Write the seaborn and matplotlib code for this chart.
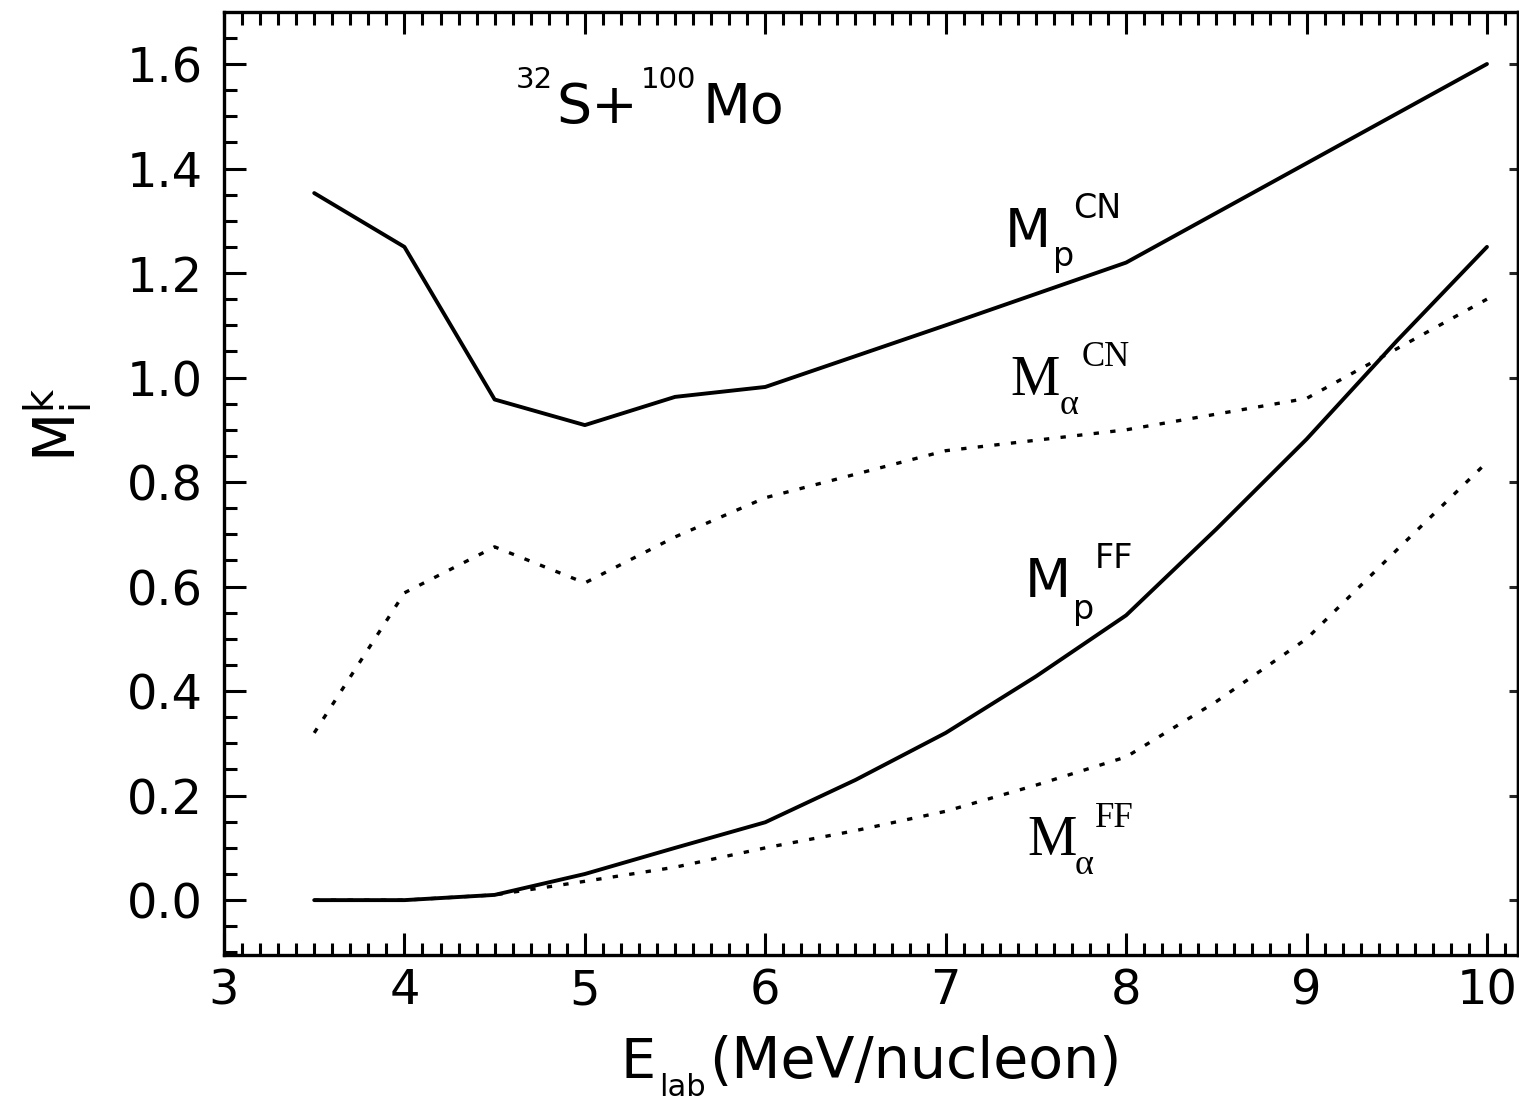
import numpy as np
import pandas as pd
import matplotlib
matplotlib.use("Agg")
import matplotlib.pyplot as plt
import seaborn as sns
from matplotlib.ticker import MultipleLocator, FixedLocator, NullLocator

# ---------------- data ----------------
E_CN = [3.5, 4.0, 4.5, 5.0, 5.5, 6.0, 7.0, 8.0, 9.0, 10.0]
Mp_CN = [1.353, 1.25, 0.958, 0.909, 0.963, 0.982, 1.10, 1.22, 1.41, 1.60]
Ma_CN = [0.32, 0.588, 0.676, 0.607, 0.695, 0.77, 0.86, 0.90, 0.96, 1.15]

E_FF = [3.5, 4.0, 4.5, 5.0, 5.5, 6.0, 6.5, 7.0, 7.5, 8.0, 8.5, 9.0, 9.5, 10.0]
Mp_FF = [0.0, 0.0, 0.01, 0.05, 0.10, 0.149, 0.23, 0.32, 0.428, 0.545, 0.71, 0.882, 1.07, 1.25]
Ma_FF = [0.0, 0.0, 0.01, 0.036, 0.063, 0.10, 0.133, 0.17, 0.22, 0.274, 0.38, 0.50, 0.67, 0.838]

x_ticks = [3, 4, 5, 6, 7, 8, 9, 10]
x_tick_labels = ["3", "4", "5", "6", "7", "8", "9", "10"]
y_ticks = [0.0, 0.2, 0.4, 0.6, 0.8, 1.0, 1.2, 1.4, 1.6]
y_tick_labels = ["0.0", "0.2", "0.4", "0.6", "0.8", "1.0", "1.2", "1.4", "1.6"]

series_names = ["Mp_CN", "Ma_CN", "Mp_FF", "Ma_FF"]
series_x = [E_CN, E_CN, E_FF, E_FF]
series_vals = [Mp_CN, Ma_CN, Mp_FF, Ma_FF]
series_kind = ["solid", "dotted", "solid", "dotted"]

df = pd.concat(
    [pd.DataFrame({"E": x, "M": v, "curve": n, "kind": k})
     for n, x, v, k in zip(series_names, series_x, series_vals, series_kind)],
    ignore_index=True,
)

# ---------------- figure ----------------
sns.set_style("ticks")
plt.rcParams["font.family"] = ["DejaVu Sans"]
plt.rcParams["axes.edgecolor"] = "black"

W, H = 1519, 1104
fig = plt.figure(figsize=(W / 100, H / 100), dpi=100)
ax_l, ax_r, ax_t, ax_b = 224, 1518, 12, 955
ax = fig.add_axes([ax_l / W, (H - ax_b) / H, (ax_r - ax_l) / W, (ax_b - ax_t) / H])

for name in series_names:
    sub = df[df["curve"] == name]
    kind = sub["kind"].iloc[0]
    if kind == "solid":
        sns.lineplot(data=sub, x="E", y="M", ax=ax, color="black", lw=2.8,
                     estimator=None, sort=False, legend=False)
    else:
        sns.lineplot(data=sub, x="E", y="M", ax=ax, color="black", lw=2.4,
                     linestyle=(0, (1.6, 3.4)), estimator=None, sort=False,
                     legend=False)

ax.set_xlim(3, 10.172)
ax.set_ylim(-0.105, 1.6995)

ax.xaxis.set_major_locator(FixedLocator(x_ticks))
ax.set_xticklabels(x_tick_labels)
ax.xaxis.set_minor_locator(MultipleLocator(0.1))
ax.yaxis.set_major_locator(FixedLocator(y_ticks))
ax.set_yticklabels(y_tick_labels)
ax.yaxis.set_minor_locator(MultipleLocator(0.05))

ax.tick_params(which="both", direction="in", top=True, right=False,
               width=2.2, color="black")
ax.tick_params(which="major", length=15.5)
ax.tick_params(which="minor", length=9)
ax.tick_params(axis="both", labelsize=34.5, labelcolor="black")
ax.tick_params(axis="x", pad=9)
ax.tick_params(axis="y", pad=15)

for sp in ax.spines.values():
    sp.set_linewidth(2.4)
    sp.set_color("black")

sec = ax.secondary_yaxis("right")
sec.set_yticks(y_ticks)
sec.yaxis.set_minor_locator(NullLocator())
sec.tick_params(direction="in", length=6.5, width=2.2, labelright=False)
sec.spines["right"].set_linewidth(2.4)

ax.set_xlabel("")
ax.set_ylabel(r"$\mathregular{M_i^k}$", fontsize=41, color="black")
ax.yaxis.set_label_coords((95 - ax_l) / (ax_r - ax_l), (ax_b - 425) / (ax_b - ax_t))


def ptext(x_px, base_px, s, size, family="DejaVu Sans"):
    fig.text(x_px / W, (H - base_px) / H, s, ha="left", va="baseline",
             fontsize=size, family=family, color="black")


# title
ptext(516, 88, "32", 21)
ptext(556, 123, "S+", 40)
ptext(641, 88, "100", 21)
ptext(702, 123, "Mo", 40)

# curve labels (sans: protons)
ptext(1005, 247, "M", 38.5)
ptext(1053, 266, "p", 24)
ptext(1073, 218, "CN", 24)
ptext(1025, 597, "M", 38.5)
ptext(1073, 619, "p", 24)
ptext(1095, 568, "FF", 24)

# curve labels (serif: alphas)
serif = "Liberation Serif"
ptext(1010, 395, "M", 40, serif)
ptext(1060, 414, "α", 26, serif)
ptext(1082, 366, "CN", 25, serif)
ptext(1027, 855, "M", 40, serif)
ptext(1075, 874, "α", 26, serif)
ptext(1095, 827, "FF", 25, serif)

# x label
ptext(620, 1078, "E", 40)
ptext(659, 1096, "lab", 22)
ptext(709, 1078, "(MeV/nucleon)", 41)

fig.savefig("out.png", dpi=100, facecolor="white")
